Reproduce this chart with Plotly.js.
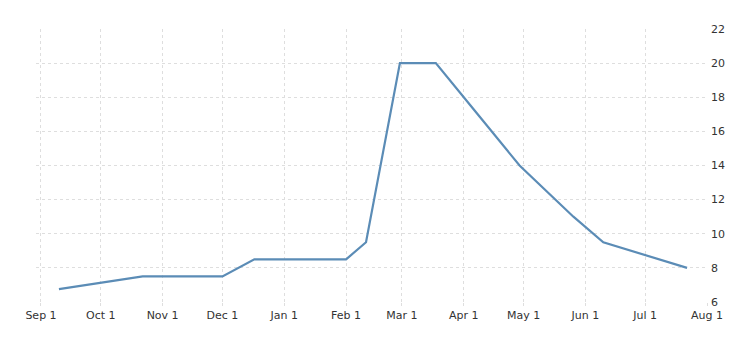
<!DOCTYPE html>
<html>
<head>
<meta charset="utf-8">
<script src="https://cdn.plot.ly/plotly-3.0.1.min.js"></script>
<style>html,body{margin:0;padding:0;background:#fff;}#chart{width:754px;height:353px;}</style>
</head>
<body>
<div id="chart"></div>
<script>
const dates = ["2021-09-10","2021-10-22","2021-12-01","2021-12-17","2022-02-01","2022-02-11","2022-02-28","2022-03-18","2022-04-08","2022-04-29","2022-05-26","2022-06-10","2022-07-22"];
const rates = [6.75, 7.5, 7.5, 8.5, 8.5, 9.5, 20, 20, 17, 14, 11, 9.5, 8];
const xTickVals = ["2021-09-01","2021-10-01","2021-11-01","2021-12-01","2022-01-01","2022-02-01","2022-03-01","2022-04-01","2022-05-01","2022-06-01","2022-07-01","2022-08-01"];
const xTickText = ["Sep 1","Oct 1","Nov 1","Dec 1","Jan 1","Feb 1","Mar 1","Apr 1","May 1","Jun 1","Jul 1","Aug 1"];
const yTickVals = [6, 8, 10, 12, 14, 16, 18, 20, 22];

const trace = {
  x: dates, y: rates, type: "scatter", mode: "lines",
  line: {color: "#5b8cb6", width: 2.2},
  hoverinfo: "x+y"
};
const layout = {
  width: 754, height: 353,
  margin: {l: 36, r: 47, t: 29, b: 51},
  paper_bgcolor: "#fff", plot_bgcolor: "#fff",
  showlegend: false,
  font: {family: "DejaVu Sans, Verdana, sans-serif", size: 11, color: "#333"},
  xaxis: {
    type: "date",
    range: ["2021-08-29 12:00", "2022-08-01"],
    tickvals: xTickVals, ticktext: xTickText,
    showgrid: true, gridcolor: "#dedede", griddash: "dot", gridwidth: 1,
    ticks: "outside", ticklen: 3, tickcolor: "#dedede",
    zeroline: false, showline: false,
    tickfont: {size: 11, color: "#333"}
  },
  yaxis: {
    side: "right",
    range: [6, 22],
    tickvals: yTickVals,
    showgrid: true, gridcolor: "#dedede", griddash: "dot", gridwidth: 1,
    zeroline: false, showline: false, ticks: "",
    ticklabelstandoff: 3,
    tickfont: {size: 11, color: "#333"}
  }
};
Plotly.newPlot("chart", [trace], layout, {displayModeBar: false, staticPlot: true});
</script>
</body>
</html>
